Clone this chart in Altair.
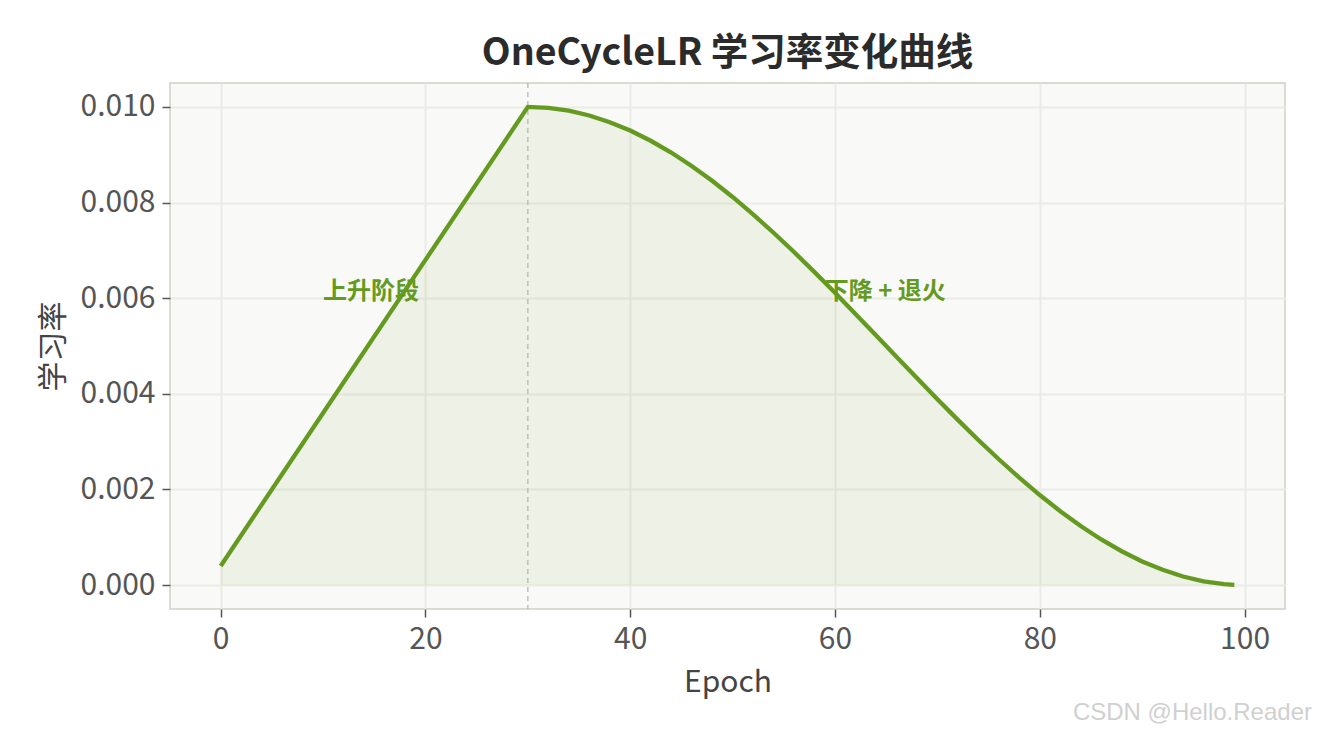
import altair as alt
import pandas as pd

epochs = [0, 10, 20, 30, 32, 34, 36, 38, 40, 42, 44, 46, 48, 50, 52, 54, 56, 58, 60,
          62, 64, 66, 68, 70, 72, 74, 76, 78, 80, 82, 84, 86, 88, 90, 92, 94, 96, 98, 99]
lr = [0.0004, 0.0036, 0.0068, 0.01000, 0.009980, 0.009920, 0.009820, 0.009681, 0.009505,
      0.009292, 0.009045, 0.008765, 0.008455, 0.008117, 0.007754, 0.007369, 0.006965,
      0.006545, 0.006113, 0.005671, 0.005224, 0.004776, 0.004329, 0.003887, 0.003455,
      0.003035, 0.002631, 0.002246, 0.001883, 0.001545, 0.001235, 0.000955, 0.000708,
      0.000495, 0.000319, 0.000180, 0.000080, 0.000020, 0.000005]

peak_epoch = [30]
ann_x = [10, 59]
ann_y = [0.006, 0.006]
ann_text = ["上升阶段", "下降 + 退火"]
x_ticks = [0, 20, 40, 60, 80, 100]
y_ticks = [0.000, 0.002, 0.004, 0.006, 0.008, 0.010]

FONT = "Noto Sans CJK SC"
GREEN = "#659a20"

df = pd.DataFrame({"epoch": epochs, "lr": lr})
ann = pd.DataFrame({"x": ann_x, "y": ann_y, "t": ann_text})
vl = pd.DataFrame({"x": peak_epoch})

xs = alt.Scale(domain=[-4.95, 103.95], nice=False, zero=False)
ys = alt.Scale(domain=[-0.0005, 0.0105], nice=False, zero=False)

xaxis = alt.Axis(values=x_ticks, title="Epoch", format="d")
yaxis = alt.Axis(values=y_ticks, title="学习率", format=".3f")

area = alt.Chart(df).mark_area(color=GREEN, opacity=0.08).encode(
    x=alt.X("epoch:Q", scale=xs, axis=xaxis),
    y=alt.Y("lr:Q", scale=ys, axis=yaxis),
    y2=alt.datum(0),
)

line = alt.Chart(df).mark_line(color=GREEN, strokeWidth=4.3).encode(
    x=alt.X("epoch:Q", scale=xs),
    y=alt.Y("lr:Q", scale=ys),
)

rule = alt.Chart(vl).mark_rule(color="#b8b8b2", strokeDash=[5, 4], strokeWidth=1.3).encode(
    x=alt.X("x:Q", scale=xs),
)

text = alt.Chart(ann).mark_text(
    align="left", baseline="alphabetic", font=FONT, fontSize=24, fontWeight="bold",
    color=GREEN, dy=1
).encode(
    x=alt.X("x:Q", scale=xs),
    y=alt.Y("y:Q", scale=ys),
    text="t:N",
)

wm = alt.Chart(pd.DataFrame({"t": ["CSDN @Hello.Reader"]})).mark_text(
    align="right", baseline="alphabetic", font="Liberation Sans", fontSize=24,
    color="#d0d0d0", clip=False
).encode(
    x=alt.value(1142), y=alt.value(637), text="t:N"
)

chart = alt.layer(area, rule, line, text, wm).properties(
    width=1115,
    height=526,
    autosize=alt.AutoSizeParams(type="none"),
    padding={"left": 162, "top": 75, "right": 28, "bottom": 117},
    title=alt.TitleParams(
        "OneCycleLR 学习率变化曲线", font=FONT, fontSize=37.5, fontWeight="bold",
        color="#2b2b2b", anchor="middle", offset=10
    ),
).configure_view(
    fill="#f9f9f7", stroke="#cfcfc4", strokeWidth=1.5
).configure_axis(
    labelFont=FONT, titleFont=FONT, labelFontSize=30, titleFontSize=30,
    labelColor="#555555", titleColor="#444444", titleFontWeight="normal",
    gridColor="#ebebe5", gridWidth=2, domain=False,
    tickColor="#555555", tickSize=8, tickWidth=1.5, labelPadding=7,
).configure_axisX(
    titlePadding=13
).configure_axisY(
    titlePadding=12
)

chart.save("out.html", embed_options={"renderer": "svg", "actions": False})
